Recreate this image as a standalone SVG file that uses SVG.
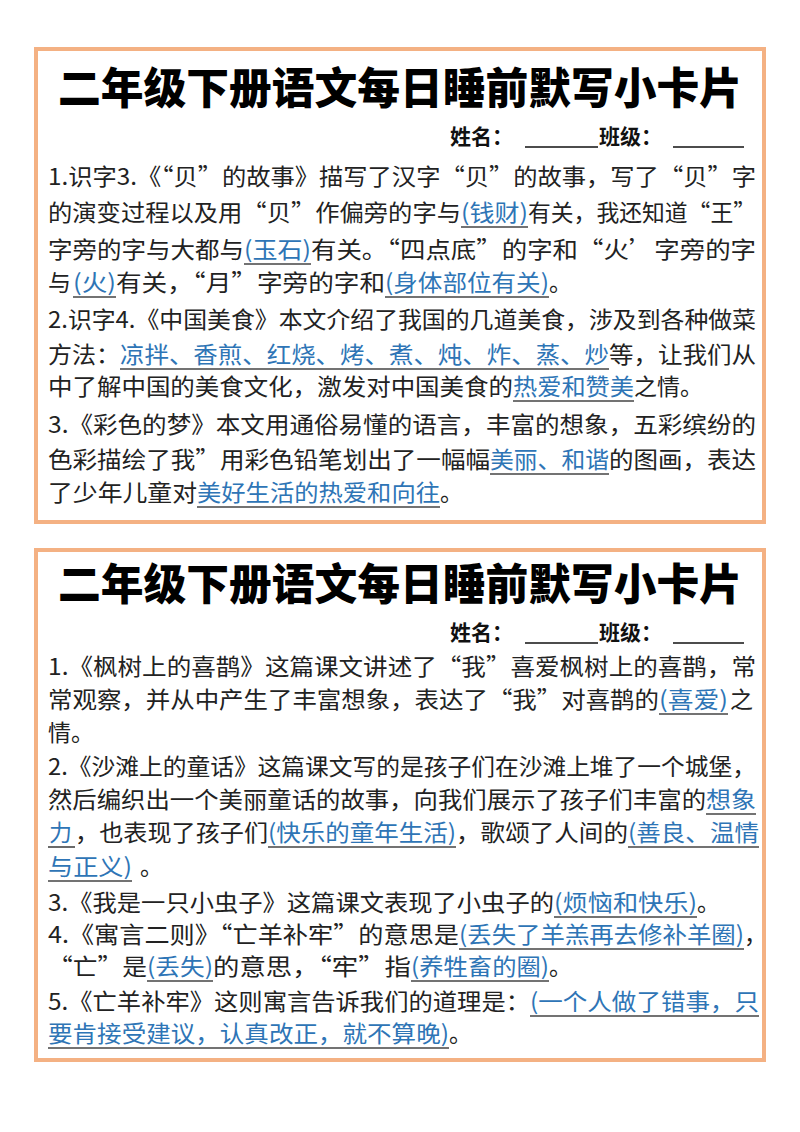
<svg xmlns="http://www.w3.org/2000/svg" width="800" height="1132" viewBox="0 0 800 1132">
<style>
.card{fill:#fff;stroke:#F4B183;stroke-width:4}
text{font-family:"Noto Sans CJK SC","Noto Sans",sans-serif;font-size:23px;fill:#222}
.t{font-size:43px;font-weight:900;fill:#000}
.n{font-size:21px;font-weight:700;fill:#111}
.b{fill:#2E75B6}
.u{stroke:#444;stroke-width:1.6}
.nl{stroke:#111;stroke-width:1.6}
</style>
<rect width="800" height="1132" fill="#fff"/>
<g id="card1">
<rect class="card" x="36" y="49" width="728" height="473"/>
<text class="t" x="58" y="104" textLength="684" lengthAdjust="spacingAndGlyphs">二年级下册语文每日睡前默写小卡片</text>
<text class="n" x="450" y="144">姓名：</text><text class="n" x="599" y="144">班级：</text>
<line class="nl" x1="525" y1="147" x2="598" y2="147"/><line class="nl" x1="673" y1="147" x2="744" y2="147"/>
<g>
<text x="48" y="185" textLength="708" lengthAdjust="spacingAndGlyphs">1.识字3.《“贝”的故事》描写了汉字“贝”的故事，写了“贝”字</text>
<text x="48" y="221" textLength="413" lengthAdjust="spacingAndGlyphs">的演变过程以及用“贝”作偏旁的字与</text><text class="b" x="461" y="221" textLength="67" lengthAdjust="spacingAndGlyphs">(钱财)</text><text x="528" y="221" textLength="228" lengthAdjust="spacingAndGlyphs">有关，我还知道“王”</text>
<text x="48" y="258" textLength="196" lengthAdjust="spacingAndGlyphs">字旁的字与大都与</text><text class="b" x="244" y="258" textLength="67" lengthAdjust="spacingAndGlyphs">(玉石)</text><text x="311" y="258" textLength="445" lengthAdjust="spacingAndGlyphs">有关。“四点底”的字和“火’字旁的字</text>
<text x="48" y="291">与</text><text class="b" x="73" y="291" textLength="43" lengthAdjust="spacingAndGlyphs">(火)</text><text x="116" y="291" textLength="269" lengthAdjust="spacingAndGlyphs">有关，“月”字旁的字和</text><text class="b" x="385" y="291" textLength="164" lengthAdjust="spacingAndGlyphs">(身体部位有关)</text><text x="549" y="291">。</text>
<text x="48" y="328" textLength="708" lengthAdjust="spacingAndGlyphs">2.识字4.《中国美食》本文介绍了我国的几道美食，涉及到各种做菜</text>
<text x="48" y="363" textLength="72" lengthAdjust="spacingAndGlyphs">方法：</text><text class="b" x="120" y="363" textLength="489" lengthAdjust="spacingAndGlyphs">凉拌、香煎、红烧、烤、煮、炖、炸、蒸、炒</text><text x="609" y="363" textLength="147" lengthAdjust="spacingAndGlyphs">等，让我们从</text>
<text x="48" y="395" textLength="465" lengthAdjust="spacingAndGlyphs">中了解中国的美食文化，激发对中国美食的</text><text class="b" x="513" y="395" textLength="121" lengthAdjust="spacingAndGlyphs">热爱和赞美</text><text x="634" y="395">之情。</text>
<text x="48" y="433" textLength="708" lengthAdjust="spacingAndGlyphs">3.《彩色的梦》本文用通俗易懂的语言，丰富的想象，五彩缤纷的</text>
<text x="48" y="468" textLength="442" lengthAdjust="spacingAndGlyphs">色彩描绘了我”用彩色铅笔划出了一幅幅</text><text class="b" x="490" y="468" textLength="119" lengthAdjust="spacingAndGlyphs">美丽、和谐</text><text x="609" y="468" textLength="147" lengthAdjust="spacingAndGlyphs">的图画，表达</text>
<text x="48" y="501" textLength="149" lengthAdjust="spacingAndGlyphs">了少年儿童对</text><text class="b" x="197" y="501" textLength="243" lengthAdjust="spacingAndGlyphs">美好生活的热爱和向往</text><text x="440" y="501">。</text>
</g>
<g>
<line class="u" x1="461" y1="227" x2="528" y2="227"/>
<line class="u" x1="244" y1="264" x2="311" y2="264"/>
<line class="u" x1="73" y1="297" x2="116" y2="297"/>
<line class="u" x1="385" y1="297" x2="549" y2="297"/>
<line class="u" x1="120" y1="369" x2="609" y2="369"/>
<line class="u" x1="513" y1="401" x2="634" y2="401"/>
<line class="u" x1="490" y1="474" x2="609" y2="474"/>
<line class="u" x1="197" y1="507" x2="440" y2="507"/>
</g>
</g>
<g id="card2">
<rect class="card" x="36" y="550" width="728" height="510"/>
<text class="t" x="58" y="600" textLength="684" lengthAdjust="spacingAndGlyphs">二年级下册语文每日睡前默写小卡片</text>
<text class="n" x="450" y="640">姓名：</text><text class="n" x="599" y="640">班级：</text>
<line class="nl" x1="525" y1="643" x2="598" y2="643"/><line class="nl" x1="673" y1="643" x2="744" y2="643"/>
<g>
<text x="48" y="675" textLength="708" lengthAdjust="spacingAndGlyphs">1.《枫树上的喜鹊》这篇课文讲述了“我”喜爱枫树上的喜鹊，常</text>
<text x="48" y="708" textLength="611" lengthAdjust="spacingAndGlyphs">常观察，并从中产生了丰富想象，表达了“我”对喜鹊的</text><text class="b" x="659" y="708" textLength="69" lengthAdjust="spacingAndGlyphs">(喜爱)</text><text x="730" y="708">之</text>
<text x="48" y="741">情。</text>
<text x="48" y="775" textLength="708" lengthAdjust="spacingAndGlyphs">2.《沙滩上的童话》这篇课文写的是孩子们在沙滩上堆了一个城堡，</text>
<text x="48" y="808" textLength="658" lengthAdjust="spacingAndGlyphs">然后编织出一个美丽童话的故事，向我们展示了孩子们丰富的</text><text class="b" x="706" y="808" textLength="50" lengthAdjust="spacingAndGlyphs">想象</text>
<text class="b" x="49" y="841">力</text><text x="75" y="841" textLength="193" lengthAdjust="spacingAndGlyphs">，也表现了孩子们</text><text class="b" x="268" y="841" textLength="188" lengthAdjust="spacingAndGlyphs">(快乐的童年生活)</text><text x="456" y="841" textLength="172" lengthAdjust="spacingAndGlyphs">，歌颂了人间的</text><text class="b" x="628" y="841" textLength="131" lengthAdjust="spacingAndGlyphs">(善良、温情</text>
<text class="b" x="48" y="875" textLength="84" lengthAdjust="spacingAndGlyphs">与正义)</text><text x="140" y="875">。</text>
<text x="48" y="911" textLength="506" lengthAdjust="spacingAndGlyphs">3.《我是一只小虫子》这篇课文表现了小虫子的</text><text class="b" x="554" y="911" textLength="143" lengthAdjust="spacingAndGlyphs">(烦恼和快乐)</text><text x="697" y="911">。</text>
<text x="48" y="943" textLength="411" lengthAdjust="spacingAndGlyphs">4.《寓言二则》“亡羊补牢”的意思是</text><text class="b" x="459" y="943" textLength="285" lengthAdjust="spacingAndGlyphs">(丢失了羊羔再去修补羊圈)</text><text x="744" y="943">，</text>
<text x="48" y="975" textLength="99" lengthAdjust="spacingAndGlyphs">“亡”是</text><text class="b" x="147" y="975" textLength="66" lengthAdjust="spacingAndGlyphs">(丢失)</text><text x="213" y="975" textLength="198" lengthAdjust="spacingAndGlyphs">的意思，“牢”指</text><text class="b" x="411" y="975" textLength="138" lengthAdjust="spacingAndGlyphs">(养牲畜的圈)</text><text x="549" y="975">。</text>
<text x="48" y="1010" textLength="482" lengthAdjust="spacingAndGlyphs">5.《亡羊补牢》这则寓言告诉我们的道理是：</text><text class="b" x="530" y="1010" textLength="229" lengthAdjust="spacingAndGlyphs">(一个人做了错事，只</text>
<text class="b" x="48" y="1042" textLength="401" lengthAdjust="spacingAndGlyphs">要肯接受建议，认真改正，就不算晚)</text><text x="449" y="1042">。</text>
</g>
<g>
<line class="u" x1="659" y1="714" x2="728" y2="714"/>
<line class="u" x1="706" y1="814" x2="756" y2="814"/>
<line class="u" x1="48" y1="847" x2="75" y2="847"/>
<line class="u" x1="268" y1="847" x2="456" y2="847"/>
<line class="u" x1="628" y1="847" x2="759" y2="847"/>
<line class="u" x1="48" y1="881" x2="132" y2="881"/>
<line class="u" x1="554" y1="917" x2="697" y2="917"/>
<line class="u" x1="459" y1="949" x2="744" y2="949"/>
<line class="u" x1="147" y1="981" x2="213" y2="981"/>
<line class="u" x1="411" y1="981" x2="549" y2="981"/>
<line class="u" x1="530" y1="1016" x2="759" y2="1016"/>
<line class="u" x1="48" y1="1048" x2="449" y2="1048"/>
</g>
</g>
</svg>
